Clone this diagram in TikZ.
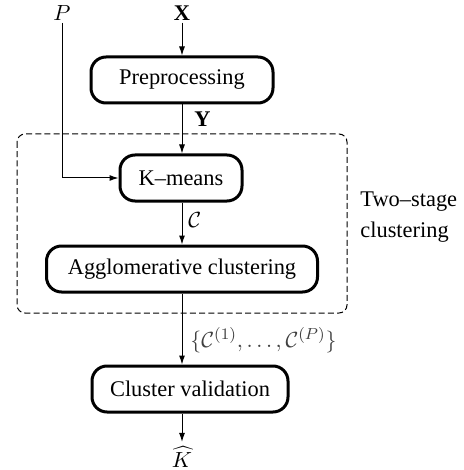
\documentclass[tikz,border=0pt]{standalone}
\usepackage{fontspec}
\setmainfont{Liberation Serif}
\usetikzlibrary{arrows.meta}
\begin{document}
\begin{tikzpicture}[x=0.5pt,y=-0.5pt,
  font=\fontsize{11.2}{15.5}\selectfont,
  block/.style={draw,line width=1.5pt,rounded corners=7.5pt,minimum height=23pt,inner sep=0pt},
  conn/.style={line width=0.5pt,-{Latex[length=4.5pt,width=3pt]}},
  lbl/.style={inner sep=1pt}]
\useasboundingbox (0,0) rectangle (463,470);
\node[lbl] (P) at (62,13) {$P$};
\node[lbl] (X) at (182,13) {$\mathbf{X}$};
\node[block,minimum width=91pt] (pre) at (182,80) {Preprocessing};
\node[block,minimum width=61pt] (km) at (181,178) {K–means};
\node[block,minimum width=135.5pt] (agg) at (182,269) {Agglomerative clustering};
\node[block,minimum width=98pt] (cv) at (190,389) {Cluster validation};
\node[lbl,inner sep=2pt] (K) at (182,457) {$\widehat{K}$};
\draw[dashed,dash pattern=on 3pt off 1.6pt,line width=0.5pt,rounded corners=4pt] (17,134) rectangle (347,313);
\node[lbl,anchor=west] (Y) at (192,119) {$\mathbf{Y}$};
\node[lbl,anchor=west] (C) at (186,220) {$\mathcal{C}$};
\node[lbl,anchor=west,text=black!75] (S) at (188,340) {$\{\mathcal{C}^{(1)},\ldots,\mathcal{C}^{(P)}\}$};
\node[lbl,anchor=west,align=left] (T) at (358,217) {Two–stage\\clustering};
\draw[conn] (X) -- (pre);
\draw[conn] (pre) -- (km.north -| pre.south);
\draw[conn] (P) |- (km.west);
\draw[conn] (km.south -| agg.north) -- (agg);
\draw[conn] (agg.south) -- (agg.south |- cv.north);
\draw[conn] (agg.south |- cv.south) -- (K.north);
\end{tikzpicture}
\end{document}
